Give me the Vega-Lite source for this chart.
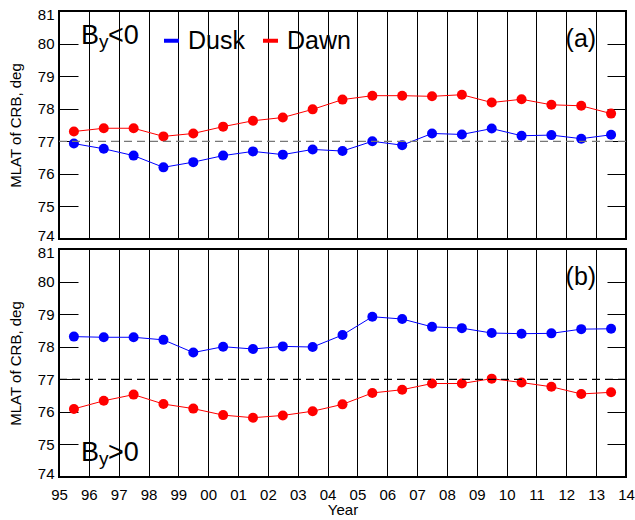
{
  "$schema": "https://vega.github.io/schema/vega-lite/v6.json",
  "background": "white",
  "padding": {"left": 7, "top": 6, "right": 5, "bottom": 2},
  "spacing": 10,
  "bounds": "flush",
  "config": {
    "font": "Liberation Sans",
    "view": {"stroke": "black", "strokeWidth": 2},
    "axis": {"labelColor": "black", "titleColor": "black", "tickColor": "black", "labelFont": "Liberation Sans", "titleFont": "Liberation Sans", "labelFlush": false, "labelOverlap": false, "domain": false}
  },
  "datasets": {
    "crb": [
      {"panel": "a", "side": "Dusk", "year": 1995.5, "mlat": 76.93},
      {"panel": "a", "side": "Dusk", "year": 1996.5, "mlat": 76.77},
      {"panel": "a", "side": "Dusk", "year": 1997.5, "mlat": 76.56},
      {"panel": "a", "side": "Dusk", "year": 1998.5, "mlat": 76.20},
      {"panel": "a", "side": "Dusk", "year": 1999.5, "mlat": 76.36},
      {"panel": "a", "side": "Dusk", "year": 2000.5, "mlat": 76.56},
      {"panel": "a", "side": "Dusk", "year": 2001.5, "mlat": 76.69},
      {"panel": "a", "side": "Dusk", "year": 2002.5, "mlat": 76.59},
      {"panel": "a", "side": "Dusk", "year": 2003.5, "mlat": 76.75},
      {"panel": "a", "side": "Dusk", "year": 2004.5, "mlat": 76.70},
      {"panel": "a", "side": "Dusk", "year": 2005.5, "mlat": 77.00},
      {"panel": "a", "side": "Dusk", "year": 2006.5, "mlat": 76.88},
      {"panel": "a", "side": "Dusk", "year": 2007.5, "mlat": 77.24},
      {"panel": "a", "side": "Dusk", "year": 2008.5, "mlat": 77.21},
      {"panel": "a", "side": "Dusk", "year": 2009.5, "mlat": 77.39},
      {"panel": "a", "side": "Dusk", "year": 2010.5, "mlat": 77.17},
      {"panel": "a", "side": "Dusk", "year": 2011.5, "mlat": 77.19},
      {"panel": "a", "side": "Dusk", "year": 2012.5, "mlat": 77.08},
      {"panel": "a", "side": "Dusk", "year": 2013.5, "mlat": 77.20},
      {"panel": "a", "side": "Dawn", "year": 1995.5, "mlat": 77.30},
      {"panel": "a", "side": "Dawn", "year": 1996.5, "mlat": 77.40},
      {"panel": "a", "side": "Dawn", "year": 1997.5, "mlat": 77.40},
      {"panel": "a", "side": "Dawn", "year": 1998.5, "mlat": 77.15},
      {"panel": "a", "side": "Dawn", "year": 1999.5, "mlat": 77.24},
      {"panel": "a", "side": "Dawn", "year": 2000.5, "mlat": 77.45},
      {"panel": "a", "side": "Dawn", "year": 2001.5, "mlat": 77.63},
      {"panel": "a", "side": "Dawn", "year": 2002.5, "mlat": 77.73},
      {"panel": "a", "side": "Dawn", "year": 2003.5, "mlat": 77.98},
      {"panel": "a", "side": "Dawn", "year": 2004.5, "mlat": 78.28},
      {"panel": "a", "side": "Dawn", "year": 2005.5, "mlat": 78.40},
      {"panel": "a", "side": "Dawn", "year": 2006.5, "mlat": 78.40},
      {"panel": "a", "side": "Dawn", "year": 2007.5, "mlat": 78.38},
      {"panel": "a", "side": "Dawn", "year": 2008.5, "mlat": 78.43},
      {"panel": "a", "side": "Dawn", "year": 2009.5, "mlat": 78.19},
      {"panel": "a", "side": "Dawn", "year": 2010.5, "mlat": 78.29},
      {"panel": "a", "side": "Dawn", "year": 2011.5, "mlat": 78.12},
      {"panel": "a", "side": "Dawn", "year": 2012.5, "mlat": 78.09},
      {"panel": "a", "side": "Dawn", "year": 2013.5, "mlat": 77.85},
      {"panel": "b", "side": "Dusk", "year": 1995.5, "mlat": 78.31},
      {"panel": "b", "side": "Dusk", "year": 1996.5, "mlat": 78.29},
      {"panel": "b", "side": "Dusk", "year": 1997.5, "mlat": 78.29},
      {"panel": "b", "side": "Dusk", "year": 1998.5, "mlat": 78.21},
      {"panel": "b", "side": "Dusk", "year": 1999.5, "mlat": 77.82},
      {"panel": "b", "side": "Dusk", "year": 2000.5, "mlat": 78.00},
      {"panel": "b", "side": "Dusk", "year": 2001.5, "mlat": 77.93},
      {"panel": "b", "side": "Dusk", "year": 2002.5, "mlat": 78.01},
      {"panel": "b", "side": "Dusk", "year": 2003.5, "mlat": 77.99},
      {"panel": "b", "side": "Dusk", "year": 2004.5, "mlat": 78.36},
      {"panel": "b", "side": "Dusk", "year": 2005.5, "mlat": 78.92},
      {"panel": "b", "side": "Dusk", "year": 2006.5, "mlat": 78.85},
      {"panel": "b", "side": "Dusk", "year": 2007.5, "mlat": 78.61},
      {"panel": "b", "side": "Dusk", "year": 2008.5, "mlat": 78.57},
      {"panel": "b", "side": "Dusk", "year": 2009.5, "mlat": 78.42},
      {"panel": "b", "side": "Dusk", "year": 2010.5, "mlat": 78.40},
      {"panel": "b", "side": "Dusk", "year": 2011.5, "mlat": 78.41},
      {"panel": "b", "side": "Dusk", "year": 2012.5, "mlat": 78.54},
      {"panel": "b", "side": "Dusk", "year": 2013.5, "mlat": 78.55},
      {"panel": "b", "side": "Dawn", "year": 1995.5, "mlat": 76.09},
      {"panel": "b", "side": "Dawn", "year": 1996.5, "mlat": 76.34},
      {"panel": "b", "side": "Dawn", "year": 1997.5, "mlat": 76.53},
      {"panel": "b", "side": "Dawn", "year": 1998.5, "mlat": 76.24},
      {"panel": "b", "side": "Dawn", "year": 1999.5, "mlat": 76.10},
      {"panel": "b", "side": "Dawn", "year": 2000.5, "mlat": 75.90},
      {"panel": "b", "side": "Dawn", "year": 2001.5, "mlat": 75.82},
      {"panel": "b", "side": "Dawn", "year": 2002.5, "mlat": 75.89},
      {"panel": "b", "side": "Dawn", "year": 2003.5, "mlat": 76.02},
      {"panel": "b", "side": "Dawn", "year": 2004.5, "mlat": 76.23},
      {"panel": "b", "side": "Dawn", "year": 2005.5, "mlat": 76.58},
      {"panel": "b", "side": "Dawn", "year": 2006.5, "mlat": 76.68},
      {"panel": "b", "side": "Dawn", "year": 2007.5, "mlat": 76.87},
      {"panel": "b", "side": "Dawn", "year": 2008.5, "mlat": 76.87},
      {"panel": "b", "side": "Dawn", "year": 2009.5, "mlat": 77.02},
      {"panel": "b", "side": "Dawn", "year": 2010.5, "mlat": 76.90},
      {"panel": "b", "side": "Dawn", "year": 2011.5, "mlat": 76.77},
      {"panel": "b", "side": "Dawn", "year": 2012.5, "mlat": 76.55},
      {"panel": "b", "side": "Dawn", "year": 2013.5, "mlat": 76.60}
    ]
  },
  "resolve": {"legend": {"stroke": "independent"}},
  "vconcat": [
    {
      "width": 567,
      "height": 228,
      "resolve": {"axis": {"x": "independent", "y": "independent"}},
      "layer": [
        {
          "layer": [
            {
              "data": {"name": "crb"},
              "transform": [{"filter": "datum.panel === 'a'"}],
              "mark": {"type": "line", "strokeWidth": 1},
              "encoding": {
                "x": {"field": "year", "type": "quantitative", "scale": {"domain": [1995, 2014], "nice": false, "zero": false},
                  "axis": {"orient": "bottom", "title": null, "labels": false,
                    "tickValues": [1995,1995.5,1996,1996.5,1997,1997.5,1998,1998.5,1999,1999.5,2000,2000.5,2001,2001.5,2002,2002.5,2003,2003.5,2004,2004.5,2005,2005.5,2006,2006.5,2007,2007.5,2008,2008.5,2009,2009.5,2010,2010.5,2011,2011.5,2012,2012.5,2013,2013.5,2014],
                    "grid": true, "gridColor": "black", "gridWidth": 1,
                    "gridOpacity": {"condition": {"test": "datum.value % 1 === 0", "value": 1}, "value": 0},
                    "tickSize": {"condition": {"test": "datum.value % 1 === 0", "value": 0}, "value": -6}}},
                "y": {"field": "mlat", "type": "quantitative", "scale": {"domain": [74, 81], "nice": false, "zero": false},
                  "axis": {"orient": "left", "title": "MLAT of CRB, deg", "titleFontSize": 15, "titleFontWeight": "normal", "titlePadding": 14,
                    "tickValues": [74,74.5,75,75.5,76,76.5,77,77.5,78,78.5,79,79.5,80,80.5,81],
                    "tickSize": {"condition": {"test": "datum.value % 1 === 0", "value": -19}, "value": -9},
                    "labelFlush": true, "labelFlushOffset": 4,
                    "labelExpr": "datum.value % 1 === 0 ? datum.label : ''", "labelFontSize": 15, "labelPadding": 24, "grid": false}},
                "stroke": {"field": "side", "type": "nominal", "scale": {"domain": ["Dusk", "Dawn"], "range": ["#0000ff", "#ff0000"]},
                  "legend": {"orient": "none", "legendX": 100, "legendY": 17, "direction": "horizontal", "title": null, "symbolType": "stroke", "symbolStrokeWidth": 4, "symbolSize": 225, "labelFontSize": 25, "labelFont": "Liberation Sans", "labelColor": "black", "labelOffset": 4, "columnPadding": 10, "padding": 0}}
              }
            },
            {
              "data": {"name": "crb"},
              "transform": [{"filter": "datum.panel === 'a'"}],
              "mark": {"type": "circle", "size": 100, "opacity": 1},
              "encoding": {
                "x": {"field": "year", "type": "quantitative"},
                "y": {"field": "mlat", "type": "quantitative"},
                "fill": {"field": "side", "type": "nominal", "scale": {"domain": ["Dusk", "Dawn"], "range": ["#0000ff", "#ff0000"]}, "legend": null}
              }
            },
            {
              "data": {"values": [{}]},
              "mark": {"type": "text", "text": "B", "align": "left", "baseline": "alphabetic", "fontSize": 27, "font": "Liberation Sans"},
              "encoding": {"x": {"datum": 1995.74, "type": "quantitative"}, "y": {"datum": 80.0, "type": "quantitative"}}
            },
            {
              "data": {"values": [{}]},
              "mark": {"type": "text", "text": "y", "align": "left", "baseline": "alphabetic", "fontSize": 19, "font": "Liberation Sans", "dx": 18, "dy": 4},
              "encoding": {"x": {"datum": 1995.74, "type": "quantitative"}, "y": {"datum": 80.0, "type": "quantitative"}}
            },
            {
              "data": {"values": [{}]},
              "mark": {"type": "text", "text": "<0", "align": "left", "baseline": "alphabetic", "fontSize": 27, "font": "Liberation Sans", "dx": 27},
              "encoding": {"x": {"datum": 1995.74, "type": "quantitative"}, "y": {"datum": 80.0, "type": "quantitative"}}
            },
            {
              "data": {"values": [{}]},
              "mark": {"type": "text", "text": "(a)", "align": "right", "baseline": "alphabetic", "fontSize": 25, "font": "Liberation Sans"},
              "encoding": {"x": {"datum": 2013.0, "type": "quantitative"}, "y": {"datum": 79.88, "type": "quantitative"}}
            }
          ]
        },
        {
          "data": {"values": [{}]},
          "mark": {"type": "rule", "strokeDash": [8, 5], "stroke": "#777777", "strokeWidth": 1.2},
          "encoding": {
            "x": {"datum": 1995, "type": "quantitative",
              "axis": {"orient": "top", "title": null, "labels": false, "grid": false,
                "tickValues": [1995.5,1996.5,1997.5,1998.5,1999.5,2000.5,2001.5,2002.5,2003.5,2004.5,2005.5,2006.5,2007.5,2008.5,2009.5,2010.5,2011.5,2012.5,2013.5],
                "tickSize": -6}},
            "x2": {"datum": 2014},
            "y": {"datum": 77, "type": "quantitative",
              "axis": {"orient": "right", "title": null, "labels": false, "grid": false,
                "tickValues": [74,74.5,75,75.5,76,76.5,77,77.5,78,78.5,79,79.5,80,80.5,81],
                "tickSize": {"condition": {"test": "datum.value % 1 === 0", "value": -19}, "value": -9}}}
          }
        }
      ]
    },
    {
      "width": 567,
      "height": 228,
      "resolve": {"axis": {"x": "independent", "y": "independent"}},
      "layer": [
        {
          "layer": [
            {
              "data": {"name": "crb"},
              "transform": [{"filter": "datum.panel === 'b'"}],
              "mark": {"type": "line", "strokeWidth": 1},
              "encoding": {
                "x": {"field": "year", "type": "quantitative", "scale": {"domain": [1995, 2014], "nice": false, "zero": false},
                  "axis": {"orient": "bottom", "title": "Year", "titleFontSize": 15, "titleFontWeight": "normal", "titlePadding": 0,
                    "format": "d", "labelExpr": "datum.value % 1 === 0 ? slice(datum.label, 2) : ''", "labelFontSize": 15, "labelPadding": 10,
                    "tickValues": [1995,1995.5,1996,1996.5,1997,1997.5,1998,1998.5,1999,1999.5,2000,2000.5,2001,2001.5,2002,2002.5,2003,2003.5,2004,2004.5,2005,2005.5,2006,2006.5,2007,2007.5,2008,2008.5,2009,2009.5,2010,2010.5,2011,2011.5,2012,2012.5,2013,2013.5,2014],
                    "grid": true, "gridColor": "black", "gridWidth": 1,
                    "gridOpacity": {"condition": {"test": "datum.value % 1 === 0", "value": 1}, "value": 0},
                    "tickSize": {"condition": {"test": "datum.value % 1 === 0", "value": 0}, "value": -6}}},
                "y": {"field": "mlat", "type": "quantitative", "scale": {"domain": [74, 81], "nice": false, "zero": false},
                  "axis": {"orient": "left", "title": "MLAT of CRB, deg", "titleFontSize": 15, "titleFontWeight": "normal", "titlePadding": 14,
                    "tickValues": [74,74.5,75,75.5,76,76.5,77,77.5,78,78.5,79,79.5,80,80.5,81],
                    "tickSize": {"condition": {"test": "datum.value % 1 === 0", "value": -19}, "value": -9},
                    "labelFlush": true, "labelFlushOffset": 4,
                    "labelExpr": "datum.value % 1 === 0 ? datum.label : ''", "labelFontSize": 15, "labelPadding": 24, "grid": false}},
                "stroke": {"field": "side", "type": "nominal", "scale": {"domain": ["Dusk", "Dawn"], "range": ["#0000ff", "#ff0000"]}, "legend": null}
              }
            },
            {
              "data": {"name": "crb"},
              "transform": [{"filter": "datum.panel === 'b'"}],
              "mark": {"type": "circle", "size": 100, "opacity": 1},
              "encoding": {
                "x": {"field": "year", "type": "quantitative"},
                "y": {"field": "mlat", "type": "quantitative"},
                "fill": {"field": "side", "type": "nominal", "scale": {"domain": ["Dusk", "Dawn"], "range": ["#0000ff", "#ff0000"]}, "legend": null}
              }
            },
            {
              "data": {"values": [{}]},
              "mark": {"type": "text", "text": "B", "align": "left", "baseline": "alphabetic", "fontSize": 27, "font": "Liberation Sans"},
              "encoding": {"x": {"datum": 1995.74, "type": "quantitative"}, "y": {"datum": 74.48, "type": "quantitative"}}
            },
            {
              "data": {"values": [{}]},
              "mark": {"type": "text", "text": "y", "align": "left", "baseline": "alphabetic", "fontSize": 19, "font": "Liberation Sans", "dx": 18, "dy": 4},
              "encoding": {"x": {"datum": 1995.74, "type": "quantitative"}, "y": {"datum": 74.48, "type": "quantitative"}}
            },
            {
              "data": {"values": [{}]},
              "mark": {"type": "text", "text": ">0", "align": "left", "baseline": "alphabetic", "fontSize": 27, "font": "Liberation Sans", "dx": 27},
              "encoding": {"x": {"datum": 1995.74, "type": "quantitative"}, "y": {"datum": 74.48, "type": "quantitative"}}
            },
            {
              "data": {"values": [{}]},
              "mark": {"type": "text", "text": "(b)", "align": "right", "baseline": "alphabetic", "fontSize": 25, "font": "Liberation Sans"},
              "encoding": {"x": {"datum": 2013.0, "type": "quantitative"}, "y": {"datum": 79.88, "type": "quantitative"}}
            }
          ]
        },
        {
          "data": {"values": [{}]},
          "mark": {"type": "rule", "strokeDash": [8, 5], "stroke": "black", "strokeWidth": 1.2},
          "encoding": {
            "x": {"datum": 1995, "type": "quantitative",
              "axis": {"orient": "top", "title": null, "labels": false, "grid": false,
                "tickValues": [1995.5,1996.5,1997.5,1998.5,1999.5,2000.5,2001.5,2002.5,2003.5,2004.5,2005.5,2006.5,2007.5,2008.5,2009.5,2010.5,2011.5,2012.5,2013.5],
                "tickSize": -6}},
            "x2": {"datum": 2014},
            "y": {"datum": 77, "type": "quantitative",
              "axis": {"orient": "right", "title": null, "labels": false, "grid": false,
                "tickValues": [74,74.5,75,75.5,76,76.5,77,77.5,78,78.5,79,79.5,80,80.5,81],
                "tickSize": {"condition": {"test": "datum.value % 1 === 0", "value": -19}, "value": -9}}}
          }
        }
      ]
    }
  ]
}
